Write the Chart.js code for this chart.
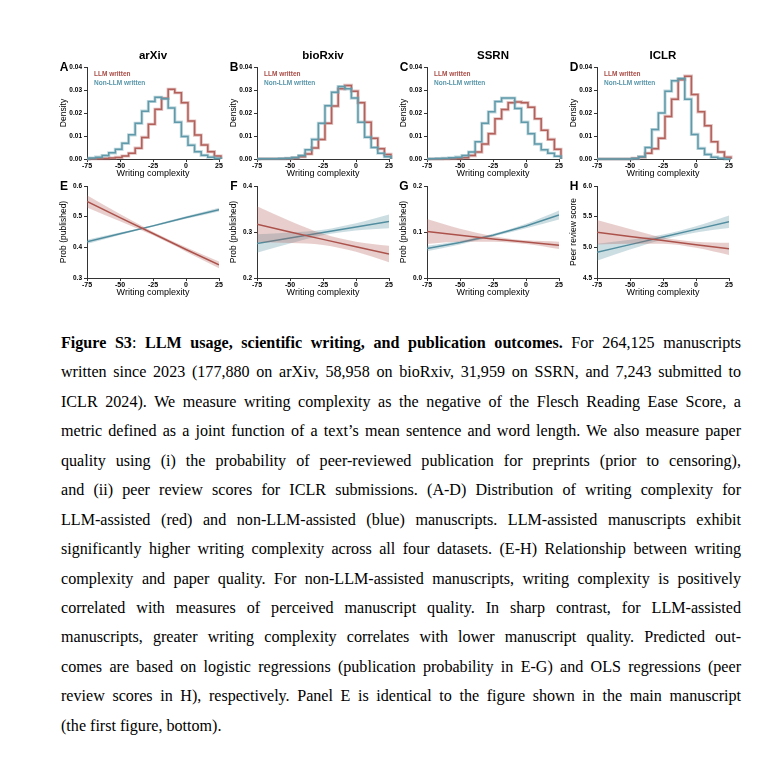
<!DOCTYPE html>
<html>
<head>
<meta charset="utf-8">
<script src="https://cdn.jsdelivr.net/npm/chart.js@4.4.1/dist/chart.umd.min.js"></script>
<style>
  body { margin: 0; width: 771px; height: 778px; background: #fff; position: relative; overflow: hidden; }
  canvas { position: absolute; }
  #caption { position: absolute; left: 61px; top: 328px; width: 680px; font-family: "Liberation Serif", serif; font-size: 16.1px; color: #000; }
  #caption div { height: 29.45px; line-height: 29.45px; white-space: nowrap; text-align: justify; text-align-last: justify; }
  #caption div.last { text-align-last: left; }
</style>
</head>
<body>
<canvas id="cA" width="190" height="140" style="left:40px;top:40px"></canvas>
<canvas id="cB" width="190" height="140" style="left:210px;top:40px"></canvas>
<canvas id="cC" width="190" height="140" style="left:380px;top:40px"></canvas>
<canvas id="cD" width="190" height="140" style="left:550px;top:40px"></canvas>
<canvas id="cE" width="190" height="119" style="left:40px;top:180px"></canvas>
<canvas id="cF" width="190" height="119" style="left:210px;top:180px"></canvas>
<canvas id="cG" width="190" height="119" style="left:380px;top:180px"></canvas>
<canvas id="cH" width="190" height="119" style="left:550px;top:180px"></canvas>

<div id="caption">
  <div><b>Figure S3</b>: <b>LLM usage, scientific writing, and publication outcomes.</b> For 264,125 manuscripts</div>
  <div>written since 2023 (177,880 on arXiv, 58,958 on bioRxiv, 31,959 on SSRN, and 7,243 submitted to</div>
  <div>ICLR 2024). We measure writing complexity as the negative of the Flesch Reading Ease Score, a</div>
  <div>metric defined as a joint function of a text’s mean sentence and word length. We also measure paper</div>
  <div>quality using (i) the probability of peer-reviewed publication for preprints (prior to censoring),</div>
  <div>and (ii) peer review scores for ICLR submissions. (A-D) Distribution of writing complexity for</div>
  <div>LLM-assisted (red) and non-LLM-assisted (blue) manuscripts. LLM-assisted manuscripts exhibit</div>
  <div>significantly higher writing complexity across all four datasets. (E-H) Relationship between writing</div>
  <div>complexity and paper quality. For non-LLM-assisted manuscripts, writing complexity is positively</div>
  <div>correlated with measures of perceived manuscript quality. In sharp contrast, for LLM-assisted</div>
  <div>manuscripts, greater writing complexity correlates with lower manuscript quality. Predicted out-</div>
  <div>comes are based on logistic regressions (publication probability in E-G) and OLS regressions (peer</div>
  <div>review scores in H), respectively. Panel E is identical to the figure shown in the main manuscript</div>
  <div class="last">(the first figure, bottom).</div>
</div>

<script>
// histogram bins (left edges, width 5)
const binLeft = [-73.5, -68.5, -63.5, -58.5, -53.5, -48.5, -43.5, -38.5, -33.5, -28.5,
                 -23.5, -18.5, -13.5, -8.5, -3.5, 1.5, 6.5, 11.5, 16.5, 21.5];
const binEnd = 26.5;

const arxivLLM = [0.0001, 0.0001, 0.0002, 0.0004, 0.0007, 0.0013, 0.0025, 0.0047, 0.0094, 0.0151,
                  0.0216, 0.0264, 0.0303, 0.0288, 0.0245, 0.0165, 0.0104, 0.0061, 0.0032, 0.0013];
const arxivNon = [0.0004, 0.0008, 0.0015, 0.0027, 0.0042, 0.0068, 0.0105, 0.0155, 0.0208, 0.0250,
                  0.0268, 0.0262, 0.0222, 0.0160, 0.0098, 0.0060, 0.0032, 0.0016, 0.0008, 0.0003];
const bioLLM = [0.0001, 0.0001, 0.0001, 0.0001, 0.0002, 0.0004, 0.0010, 0.0022, 0.0048, 0.0085,
                0.0155, 0.0230, 0.0305, 0.0320, 0.0295, 0.0245, 0.0160, 0.0090, 0.0045, 0.0020];
const bioNon = [0.0001, 0.0001, 0.0001, 0.0002, 0.0003, 0.0006, 0.0015, 0.0040, 0.0085, 0.0155,
                0.0232, 0.0290, 0.0315, 0.0305, 0.0265, 0.0160, 0.0095, 0.0050, 0.0025, 0.0010];
const ssrnLLM = [0, 0, 0, 0.0001, 0.0002, 0.0005, 0.0015, 0.0030, 0.0065, 0.0110,
                 0.0175, 0.0215, 0.0245, 0.0248, 0.0245, 0.0225, 0.0175, 0.0125, 0.0085, 0.0042];
const ssrnNon = [0.0001, 0.0002, 0.0003, 0.0005, 0.0008, 0.0015, 0.0030, 0.0075, 0.0155, 0.0205,
                 0.0250, 0.0265, 0.0265, 0.0220, 0.0160, 0.0110, 0.0065, 0.0040, 0.0025, 0.0012];
const iclrLLM = [0, 0, 0, 0, 0, 0.0003, 0.0008, 0.0025, 0.0045, 0.0090,
                 0.0185, 0.0260, 0.0345, 0.0360, 0.0280, 0.0205, 0.0145, 0.0075, 0.0030, 0.0008];
const iclrNon = [0, 0, 0, 0, 0, 0.0002, 0.0010, 0.0050, 0.0128, 0.0200,
                 0.0295, 0.0340, 0.0350, 0.0260, 0.0107, 0.0046, 0.0020, 0.0008, 0.0003, 0];

// predicted outcomes, at these writing complexity values
const predX = [-75, -50, -25, 0, 25];

const eLLM = [0.550, 0.497, 0.445, 0.393, 0.343];
const eLLMlo = [0.530, 0.485, 0.439, 0.386, 0.332];
const eLLMhi = [0.570, 0.509, 0.451, 0.400, 0.354];
const eNon = [0.418, 0.444, 0.470, 0.497, 0.523];
const eNonlo = [0.411, 0.440, 0.467, 0.493, 0.517];
const eNonhi = [0.425, 0.448, 0.473, 0.501, 0.529];

const fLLM = [0.317, 0.300, 0.284, 0.268, 0.252];
const fLLMlo = [0.278, 0.276, 0.272, 0.257, 0.234];
const fLLMhi = [0.356, 0.324, 0.296, 0.279, 0.270];
const fNon = [0.275, 0.287, 0.299, 0.311, 0.323];
const fNonlo = [0.255, 0.275, 0.293, 0.303, 0.308];
const fNonhi = [0.295, 0.299, 0.305, 0.319, 0.338];

const gLLM = [0.101, 0.093, 0.085, 0.078, 0.071];
const gLLMlo = [0.074, 0.079, 0.079, 0.074, 0.063];
const gLLMhi = [0.128, 0.107, 0.091, 0.082, 0.079];
const gNon = [0.064, 0.077, 0.093, 0.113, 0.137];
const gNonlo = [0.058, 0.073, 0.090, 0.108, 0.127];
const gNonhi = [0.070, 0.081, 0.096, 0.118, 0.147];

const hLLM = [5.245, 5.178, 5.110, 5.043, 4.975];
const hLLMlo = [5.045, 5.058, 5.060, 4.993, 4.875];
const hLLMhi = [5.445, 5.298, 5.160, 5.093, 5.075];
const hNon = [4.920, 5.044, 5.168, 5.293, 5.417];
const hNonlo = [4.780, 4.964, 5.128, 5.243, 5.317];
const hNonhi = [5.060, 5.124, 5.208, 5.343, 5.517];

const RED = '#a94c46';
const BLUE = '#4e8c9e';
const RED_HALO = 'rgba(190, 120, 115, 0.45)';
const BLUE_HALO = 'rgba(120, 170, 185, 0.45)';
const RED_BAND = 'rgba(178, 96, 90, 0.30)';
const BLUE_BAND = 'rgba(90, 145, 162, 0.30)';
const FONT = '"Liberation Sans", Arial, sans-serif';

// panel letter, title and legend text
const decor = {
  id: 'decor',
  afterDraw(chart, args, opts) {
    const { ctx, chartArea: a } = chart;
    ctx.save();
    ctx.textBaseline = 'middle';
    ctx.textAlign = 'center';
    ctx.fillStyle = '#000';
    ctx.font = 'bold 12px ' + FONT;
    ctx.fillText(opts.letter, a.left - 23, a.top + 1);
    if (opts.title) {
      ctx.font = 'bold 11.5px ' + FONT;
      ctx.fillText(opts.title, (a.left + a.right) / 2, a.top - 11);
    }
    if (opts.legend) {
      ctx.textAlign = 'left';
      ctx.font = 'bold 6.5px ' + FONT;
      ctx.fillStyle = RED;
      ctx.fillText('LLM written', a.left + 7, a.top + 7);
      ctx.fillStyle = '#5896aa';
      ctx.fillText('Non-LLM written', a.left + 7, a.top + 16);
    }
    ctx.restore();
  }
};

function scales(yMin, yMax, yStep, yDec, yTitle) {
  const axisCol = '#333';
  return {
    x: {
      type: 'linear', min: -75, max: 25,
      afterFit: s => { s.height = 21; },
      border: { color: axisCol, width: 1 },
      grid: { drawOnChartArea: false, tickLength: 3, color: axisCol },
      ticks: { stepSize: 25, padding: 0, maxRotation: 0, color: '#000', font: { family: FONT, size: 7, weight: 'bold' } },
      title: { display: true, text: 'Writing complexity', color: '#000', font: { family: FONT, size: 9 }, padding: { top: 0, bottom: 1.5 } }
    },
    y: {
      type: 'linear', min: yMin, max: yMax,
      afterFit: s => { s.width = 47; },
      border: { color: axisCol, width: 1 },
      grid: { drawOnChartArea: false, tickLength: 3, color: axisCol },
      ticks: { stepSize: yStep, padding: 2, color: '#000', font: { family: FONT, size: 6.5, weight: 'bold' },
               callback: v => v.toFixed(yDec) },
      title: { display: true, text: yTitle, color: '#000', font: { family: FONT, size: 8.5 }, padding: { top: 19, bottom: 0 } }
    }
  };
}

function histPoints(vals) {
  const pts = [{ x: -75, y: 0 }];
  binLeft.forEach((x, i) => pts.push({ x: x, y: vals[i] }));
  pts.push({ x: binEnd, y: 0 });
  return pts;
}

function histChart(id, letter, title, llm, non) {
  const line = (vals, col, w) => ({
    data: histPoints(vals), stepped: true, borderColor: col, borderWidth: w,
    pointRadius: 0, fill: false, clip: 8
  });
  new Chart(document.getElementById(id), {
    type: 'line',
    data: {
      datasets: [
        line(non, BLUE_HALO, 3.2), line(non, BLUE, 1.5),
        line(llm, RED_HALO, 3.2), line(llm, RED, 1.5)
      ]
    },
    options: {
      responsive: false, animation: false,
      layout: { padding: { left: 0, right: 11, top: 27, bottom: 0 } },
      plugins: { legend: { display: false }, tooltip: { enabled: false },
                 decor: { letter: letter, title: title, legend: true } },
      scales: scales(0, 0.04, 0.01, 2, 'Density')
    },
    plugins: [decor]
  });
}

function pts(ys) { return predX.map((x, i) => ({ x: x, y: ys[i] })); }

function predChart(id, letter, yMin, yMax, yStep, yTitle, llm, llmLo, llmHi, non, nonLo, nonHi) {
  const band = (ys, col, fillTo) => ({
    data: pts(ys), borderWidth: 0, pointRadius: 0, backgroundColor: col,
    fill: fillTo, cubicInterpolationMode: 'monotone'
  });
  const mid = (ys, col) => ({ data: pts(ys), borderColor: col, borderWidth: 1.5, pointRadius: 0, fill: false });
  new Chart(document.getElementById(id), {
    type: 'line',
    data: {
      datasets: [
        band(llmLo, RED_BAND, false), band(llmHi, RED_BAND, 0), mid(llm, RED),
        band(nonLo, BLUE_BAND, false), band(nonHi, BLUE_BAND, 3), mid(non, BLUE)
      ]
    },
    options: {
      responsive: false, animation: false,
      layout: { padding: { left: 0, right: 11, top: 6, bottom: 0 } },
      plugins: { legend: { display: false }, tooltip: { enabled: false }, decor: { letter: letter } },
      scales: scales(yMin, yMax, yStep, 1, yTitle)
    },
    plugins: [decor]
  });
}

histChart('cA', 'A', 'arXiv', arxivLLM, arxivNon);
histChart('cB', 'B', 'bioRxiv', bioLLM, bioNon);
histChart('cC', 'C', 'SSRN', ssrnLLM, ssrnNon);
histChart('cD', 'D', 'ICLR', iclrLLM, iclrNon);

predChart('cE', 'E', 0.3, 0.6, 0.1, 'Prob (published)', eLLM, eLLMlo, eLLMhi, eNon, eNonlo, eNonhi);
predChart('cF', 'F', 0.2, 0.4, 0.1, 'Prob (published)', fLLM, fLLMlo, fLLMhi, fNon, fNonlo, fNonhi);
predChart('cG', 'G', 0.0, 0.2, 0.1, 'Prob (published)', gLLM, gLLMlo, gLLMhi, gNon, gNonlo, gNonhi);
predChart('cH', 'H', 4.5, 6.0, 0.5, 'Peer review score', hLLM, hLLMlo, hLLMhi, hNon, hNonlo, hNonhi);
</script>
</body>
</html>
